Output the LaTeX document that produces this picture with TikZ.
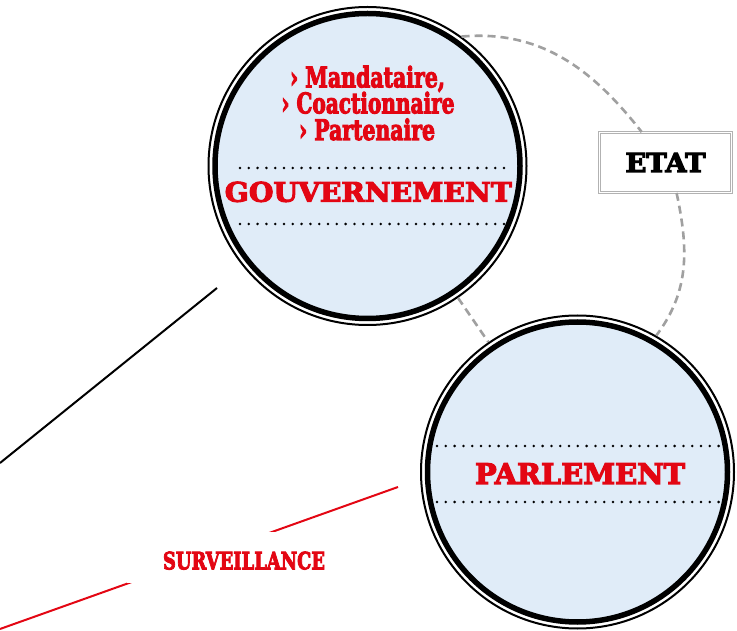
\documentclass[tikz,border=0pt]{standalone}
\usepackage{fontspec}
\usepackage{graphicx}
\usepackage{xcolor}
\usetikzlibrary{arrows}
\newfontfamily\slabfont{DejaVu Serif Bold}[FakeBold=4]
\definecolor{pressred}{HTML}{E30613}
\definecolor{cellblue}{HTML}{E0ECF8}
\definecolor{linkgray}{HTML}{A0A0A0}
\tikzset{
dotline/.style={line width=2.8pt, line cap=round, dash pattern=on 0pt off 8.8pt}}

\begin{document}
\begin{tikzpicture}[x=1pt,y=1pt]
		\tikzset{cell/.style = {shape=circle, draw, line width=2pt, inner sep=0pt, fill=white,
			minimum size={(2*#1-2)*1pt},
			path picture={\draw[line width=5.5pt, fill=cellblue] (path picture bounding box.center) circle [radius={(#1-7.5)*1pt}];}}}
		\tikzset{statebox/.style = {draw=gray!60, double=white, double distance=1.2pt, line width=0.9pt,
			minimum width=132pt, minimum height=60pt, inner sep=0pt, font=\slabfont}}
		\tikzset{redtext/.style = {text=pressred, inner sep=0pt, anchor=base, font=\slabfont}}
		\tikzset{link/.style = {draw=linkgray, line width=2.6pt, dash pattern=on 8pt off 5pt}}

		\useasboundingbox (0,0) rectangle (737,630);

		\coordinate (govLeft) at (217,342);
		\coordinate (edgeL) at (0,167);
		\coordinate (parlLeft) at (398,143);
		\coordinate (edgeB) at (0,1);

		\draw[line width=2pt] (govLeft) -- (edgeL);
		\draw[pressred, line width=2pt] (parlLeft) -- (edgeB);

		\node[cell=160] (gov) at (367.5,464) {};
		\node[cell=157.5] (parl) at (577.5,158) {};
		\node[statebox] (etat) at (665.5,467.5) {\resizebox{80pt}{19pt}{ETAT}};

		\draw[link] (gov.54) to[out=5, in=128] (etat.128);
		\draw[link] (etat.-70) to[out=-78, in=53] (parl.60);
		\draw[link] (gov) -- (parl);

		\draw[dotline] (240,462) -- (505,462);
		\draw[dotline] (240,406) -- (505,406);
		\draw[dotline] (437,184) -- (722,184);
		\draw[dotline] (437,128) -- (722,128);

		\node[redtext] (mand) at (367.5,542.7) {\resizebox{155pt}{21.5pt}{› Mandataire,}};
		\node[redtext] (coact) at (368,516.7) {\resizebox{173pt}{21.5pt}{› Coactionnaire}};
		\node[redtext] (part) at (367,490) {\resizebox{136pt}{21.5pt}{› Partenaire}};
		\node[redtext] (govName) at (368.3,428.3) {\resizebox{287pt}{20pt}{GOUVERNEMENT}};
		\node[redtext] (parlName) at (580,146) {\resizebox{210pt}{20.7pt}{PARLEMENT}};
		\node[redtext, fill=white, text height=37.3pt, text depth=13.7pt, inner xsep=36pt] (surv) at (244,60.7) {\resizebox{162pt}{17.7pt}{SURVEILLANCE}};
\end{tikzpicture}
\end{document}
